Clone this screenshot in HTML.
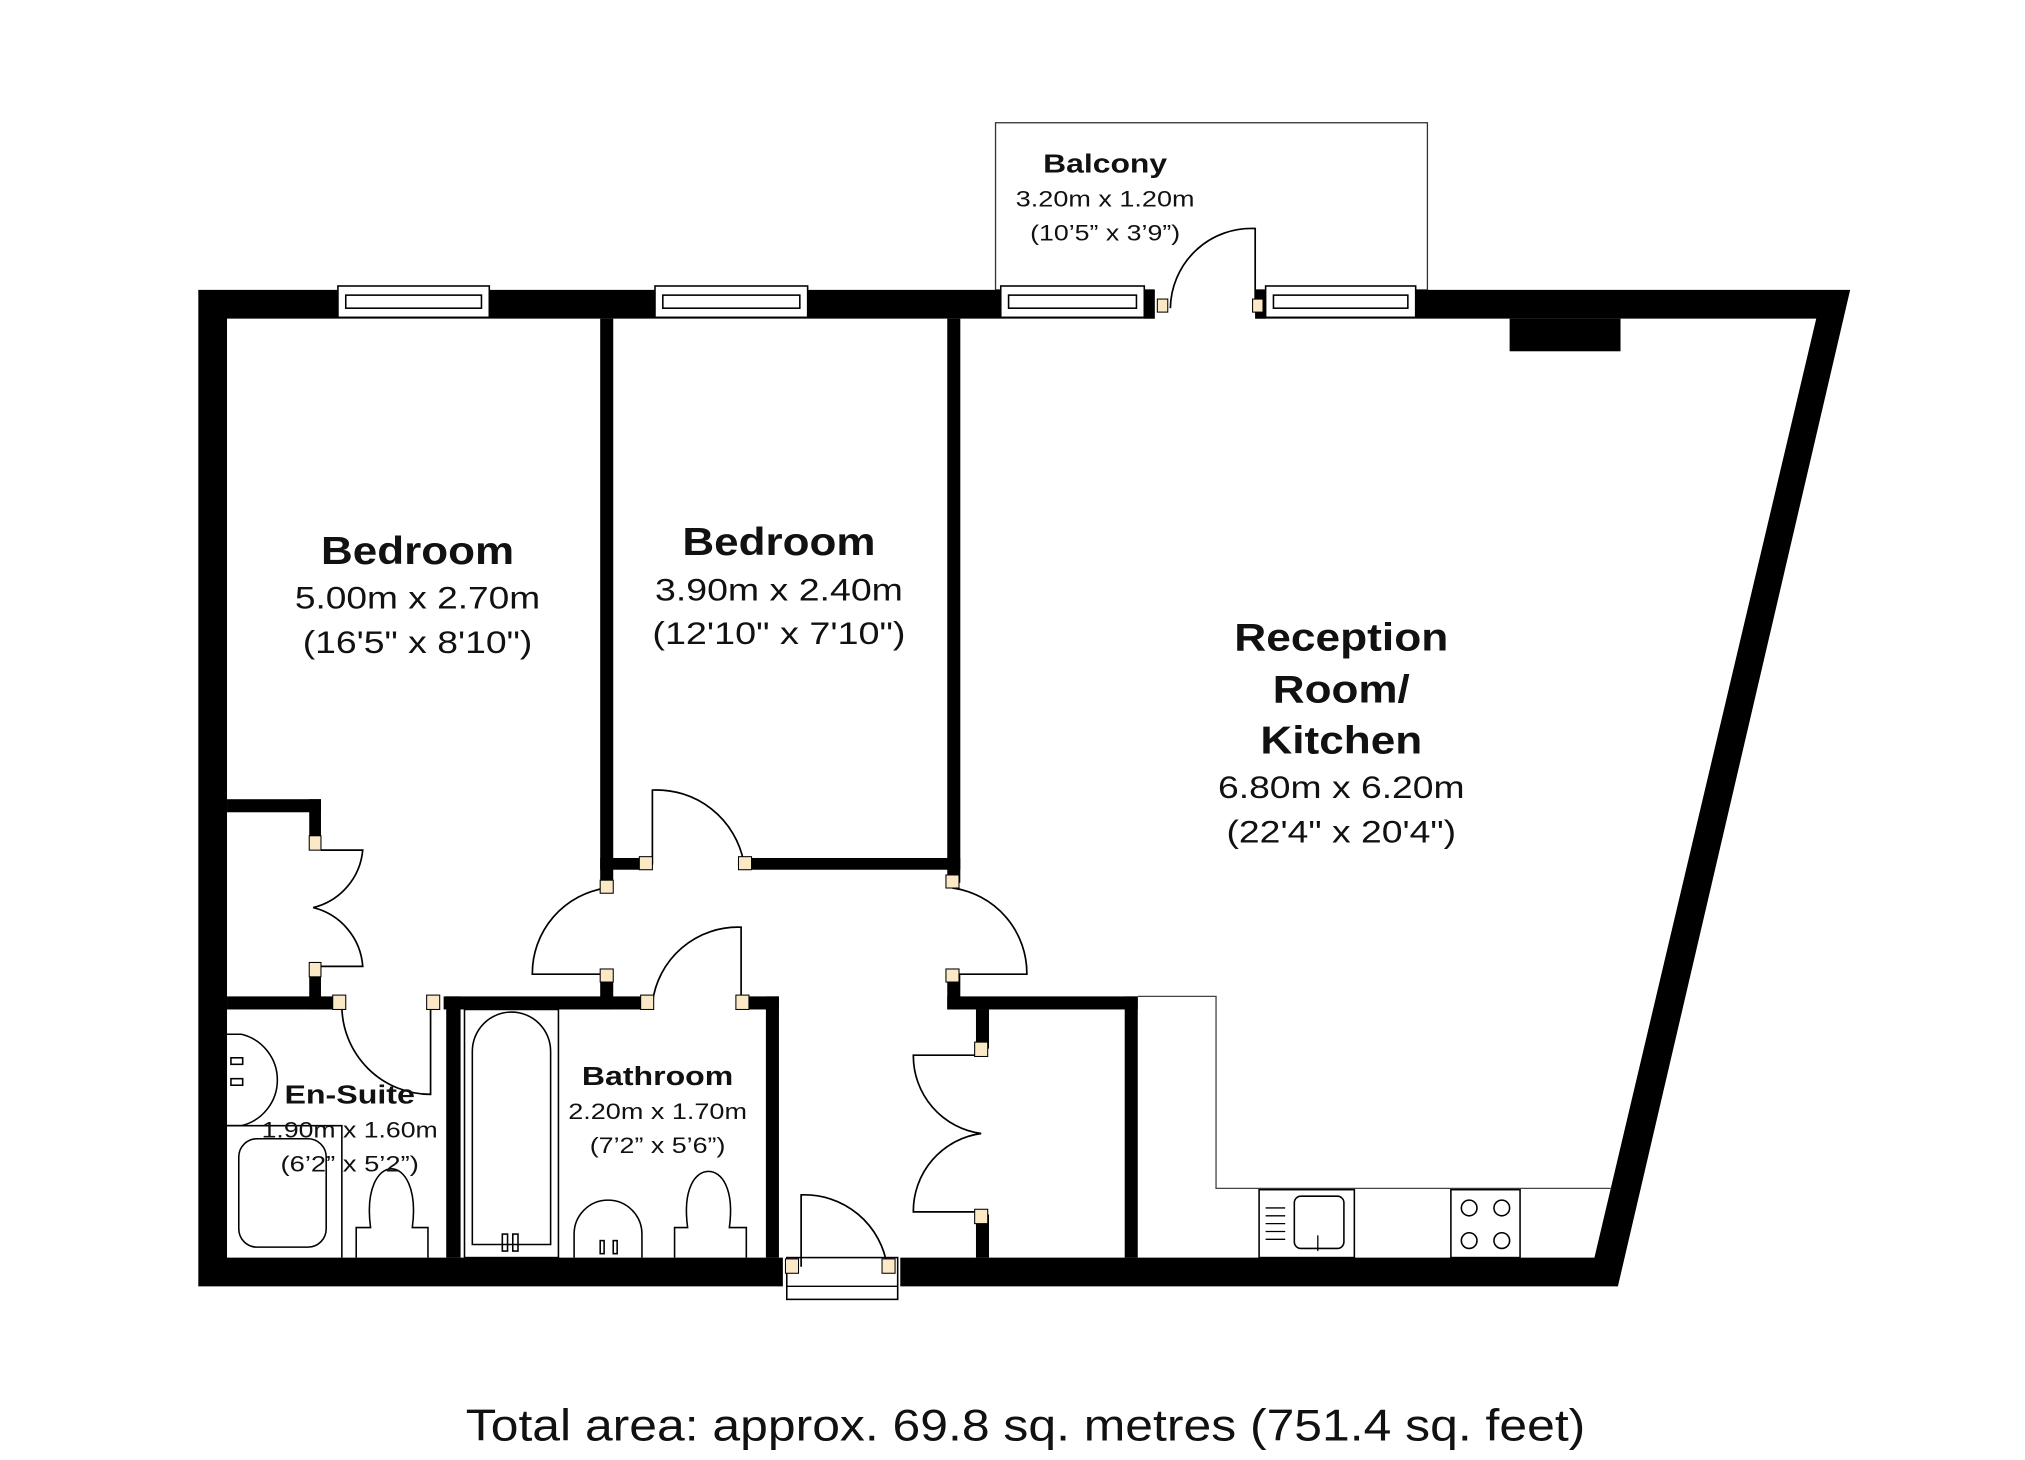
<!DOCTYPE html>
<html><head><meta charset="utf-8"><style>
html,body{margin:0;padding:0;background:#fff;}
svg{display:block;}
text{font-family:"Liberation Sans",sans-serif;fill:#111;}
.b{font-weight:bold;}
</style></head><body>
<svg width="2025" height="1460" viewBox="0 0 1552 1118" preserveAspectRatio="none" xmlns="http://www.w3.org/2000/svg">
<rect width="1552" height="1118" fill="#fff"/>
<rect x="763" y="94" width="331" height="128" fill="#fff" stroke="#333" stroke-width="1"/>
<polygon points="152,222 1418,222 1240,985 152,985" fill="#000"/>
<polygon points="174,244 1392,244 1222,963 174,963" fill="#fff"/>
<rect x="885" y="220" width="77" height="26" fill="#fff"/>
<rect x="877" y="222" width="8" height="22" fill="#000"/>
<rect x="962" y="222" width="8" height="22" fill="#000"/>
<rect x="600" y="960" width="90" height="28" fill="#fff"/>
<rect x="603" y="963" width="85" height="32" fill="#fff" stroke="#000" stroke-width="1.2"/>
<line x1="603" y1="985" x2="688" y2="985" stroke="#000" stroke-width="1"/>
<g fill="#fff" stroke="#000" stroke-width="1.2">
<rect x="259" y="219" width="116" height="24"/><rect x="265" y="226" width="104" height="10"/>
<rect x="502" y="219" width="117" height="24"/><rect x="508" y="226" width="105" height="10"/>
<rect x="767" y="219" width="110" height="24"/><rect x="773" y="226" width="98" height="10"/>
<rect x="970" y="219" width="115" height="24"/><rect x="976" y="226" width="103" height="10"/>
</g>
<rect x="1157" y="244" width="85" height="25" fill="#000"/>
<g fill="#000">
<rect x="460" y="244" width="10" height="434"/>
<rect x="460" y="748" width="10" height="25"/>
<rect x="460" y="657" width="38" height="9"/>
<rect x="570" y="657" width="166" height="9"/>
<rect x="726" y="244" width="10" height="432"/>
<rect x="726" y="746" width="10" height="27"/>
<rect x="726" y="763" width="146" height="10"/>
<rect x="862" y="763" width="10" height="200"/>
<rect x="748" y="773" width="10" height="30"/>
<rect x="748" y="930" width="10" height="33"/>
<rect x="174" y="612" width="72" height="10"/>
<rect x="237" y="612" width="9" height="35"/>
<rect x="237" y="740" width="9" height="33"/>
<rect x="174" y="763" width="86" height="10"/>
<rect x="340" y="763" width="158" height="10"/>
<rect x="342" y="763" width="11" height="200"/>
<rect x="568" y="763" width="29" height="10"/>
<rect x="587" y="763" width="10" height="200"/>
</g>
<g fill="none" stroke="#000" stroke-width="1.3">
<path d="M962 236 L962 175 A62 62 0 0 0 897 236"/>
<path d="M500 662 L500 605 A68 68 0 0 1 570 660"/>
<path d="M465 680 A66 66 0 0 0 408 746 L465 746"/>
<path d="M730 680 A66 66 0 0 1 787 746 L730 746"/>
<path d="M568 768 L568 710 A66 66 0 0 0 500 768"/>
<path d="M330 770 L330 838 A68 68 0 0 1 262 770"/>
<path d="M614 970 L614 915 A64 64 0 0 1 680 970"/>
<path d="M246 651 L278 651 A50 50 0 0 1 240 695 A50 50 0 0 1 278 740 L246 740"/>
<path d="M752 808 L700 808 A60 60 0 0 0 752 868 A60 60 0 0 0 700 928 L752 928"/>
</g>
<g fill="#fbe8c6" stroke="#000" stroke-width="0.8">
<rect x="887" y="229" width="8" height="10"/><rect x="960" y="229" width="8" height="10"/>
<rect x="490" y="656" width="10" height="10"/><rect x="566" y="656" width="10" height="10"/>
<rect x="460" y="674" width="10" height="10"/><rect x="460" y="742" width="10" height="10"/>
<rect x="725" y="670" width="10" height="10"/><rect x="725" y="742" width="10" height="10"/>
<rect x="237" y="640" width="9" height="11"/><rect x="237" y="737" width="9" height="11"/>
<rect x="255" y="762" width="10" height="11"/><rect x="327" y="762" width="10" height="11"/>
<rect x="491" y="762" width="10" height="11"/><rect x="564" y="762" width="10" height="11"/>
<rect x="747" y="798" width="10" height="11"/><rect x="747" y="926" width="10" height="11"/>
<rect x="602" y="964" width="10" height="11"/><rect x="676" y="964" width="10" height="11"/>
</g>
<g fill="none" stroke="#444" stroke-width="1">
<polyline points="872,763 932,763 932,910 1235,910"/>
</g>
<g fill="#fff" stroke="#000" stroke-width="1.2">
<rect x="965" y="911" width="73" height="52"/>
<rect x="992" y="916" width="38" height="40" rx="5"/>
<rect x="1112" y="911" width="53" height="52"/>
<circle cx="1126" cy="925" r="6"/><circle cx="1151" cy="925" r="6"/>
<circle cx="1126" cy="950" r="6"/><circle cx="1151" cy="950" r="6"/>
</g>
<g stroke="#000" stroke-width="1"><line x1="970" y1="925" x2="985" y2="925"/><line x1="970" y1="931" x2="985" y2="931"/><line x1="970" y1="937" x2="985" y2="937"/><line x1="970" y1="943" x2="985" y2="943"/><line x1="970" y1="949" x2="985" y2="949"/><line x1="1010" y1="946" x2="1010" y2="958"/></g>
<g fill="none" stroke="#000" stroke-width="1.2">
<path d="M174 792 L185 792 A36 36 0 0 1 185 862 L174 862"/>
<rect x="177" y="810" width="9" height="5"/><rect x="177" y="826" width="9" height="5"/>
<polyline points="174,862 262,862 262,963"/>
<rect x="183" y="872" width="67" height="83" rx="14"/>
<path d="M273 963 L273 940 L284 940 C280 910 290 895 300 895 C310 895 320 910 316 940 L328 940 L328 963"/>
<rect x="356" y="773" width="72" height="190"/>
<path d="M362 953 L362 805 A30 30 0 0 1 422 805 L422 953 Z"/>
<rect x="385" y="945" width="4" height="13"/><rect x="393" y="945" width="4" height="13"/>
<path d="M440 963 L440 945 A26 26 0 0 1 492 945 L492 963"/>
<rect x="460" y="950" width="3" height="10"/><rect x="470" y="950" width="3" height="10"/>
<path d="M517 963 L517 940 L527 940 C523 910 533 897 543 897 C553 897 563 910 559 940 L572 940 L572 963"/>
</g>
<text class="b" x="847" y="132" font-size="20" text-anchor="middle" textLength="95" lengthAdjust="spacingAndGlyphs">Balcony</text>
<text x="847" y="158" font-size="17" text-anchor="middle" textLength="137" lengthAdjust="spacingAndGlyphs">3.20m x 1.20m</text>
<text x="847" y="184" font-size="17" text-anchor="middle" textLength="115" lengthAdjust="spacingAndGlyphs">(10’5” x 3’9”)</text>
<text class="b" x="320" y="432" font-size="30" text-anchor="middle" textLength="148" lengthAdjust="spacingAndGlyphs">Bedroom</text>
<text x="320" y="466" font-size="24" text-anchor="middle" textLength="188" lengthAdjust="spacingAndGlyphs">5.00m x 2.70m</text>
<text x="320" y="500" font-size="24" text-anchor="middle" textLength="176" lengthAdjust="spacingAndGlyphs">(16'5" x 8'10")</text>
<text class="b" x="597" y="425" font-size="30" text-anchor="middle" textLength="148" lengthAdjust="spacingAndGlyphs">Bedroom</text>
<text x="597" y="460" font-size="24" text-anchor="middle" textLength="190" lengthAdjust="spacingAndGlyphs">3.90m x 2.40m</text>
<text x="597" y="493" font-size="24" text-anchor="middle" textLength="194" lengthAdjust="spacingAndGlyphs">(12'10" x 7'10")</text>
<text class="b" x="1028" y="498" font-size="30" text-anchor="middle" textLength="164" lengthAdjust="spacingAndGlyphs">Reception</text>
<text class="b" x="1028" y="538" font-size="30" text-anchor="middle" textLength="105" lengthAdjust="spacingAndGlyphs">Room/</text>
<text class="b" x="1028" y="577" font-size="30" text-anchor="middle" textLength="124" lengthAdjust="spacingAndGlyphs">Kitchen</text>
<text x="1028" y="611" font-size="24" text-anchor="middle" textLength="189" lengthAdjust="spacingAndGlyphs">6.80m x 6.20m</text>
<text x="1028" y="645" font-size="24" text-anchor="middle" textLength="176" lengthAdjust="spacingAndGlyphs">(22'4" x 20'4")</text>
<text class="b" x="504" y="831" font-size="20" text-anchor="middle" textLength="116" lengthAdjust="spacingAndGlyphs">Bathroom</text>
<text x="504" y="857" font-size="17" text-anchor="middle" textLength="137" lengthAdjust="spacingAndGlyphs">2.20m x 1.70m</text>
<text x="504" y="883" font-size="17" text-anchor="middle" textLength="104" lengthAdjust="spacingAndGlyphs">(7’2” x 5’6”)</text>
<text class="b" x="268" y="845" font-size="20" text-anchor="middle" textLength="100" lengthAdjust="spacingAndGlyphs">En-Suite</text>
<text x="268" y="871" font-size="17" text-anchor="middle" textLength="135" lengthAdjust="spacingAndGlyphs">1.90m x 1.60m</text>
<text x="268" y="897" font-size="17" text-anchor="middle" textLength="106" lengthAdjust="spacingAndGlyphs">(6’2” x 5’2”)</text>
<text x="786" y="1103" font-size="34" text-anchor="middle" textLength="858" lengthAdjust="spacingAndGlyphs">Total area: approx.  69.8 sq. metres (751.4 sq. feet)</text>
</svg>
</body></html>
